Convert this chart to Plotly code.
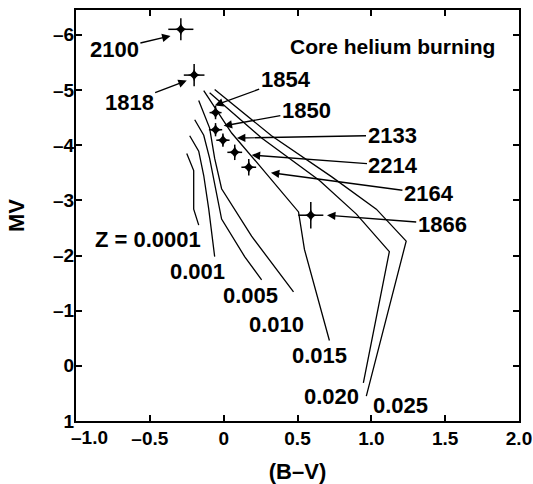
import plotly.graph_objects as go

# --- data (B-V, MV) ---
cluster_names = ["2100", "1818", "1854", "1850", "2133", "2214", "2164", "1866"]
cluster_bv = [-0.29, -0.20, -0.055, -0.055, -0.005, 0.075, 0.17, 0.59]
cluster_mv = [-6.10, -5.27, -4.59, -4.28, -4.09, -3.87, -3.60, -2.73]
cluster_err_bv = [0.085, 0.07, 0.04, 0.045, 0.045, 0.05, 0.05, 0.085]
cluster_err_mv = [0.20, 0.20, 0.12, 0.12, 0.12, 0.14, 0.15, 0.24]
# label positions and arrow tips
label_bv = [-0.74, -0.64, 0.42, 0.56, 1.14, 1.15, 1.39, 1.48]
label_mv = [-5.74, -4.77, -5.19, -4.62, -4.18, -3.63, -3.12, -2.57]
tip_bv = [-0.36, -0.25, -0.06, 0.00, 0.09, 0.19, 0.32, 0.70]
tip_mv = [-5.98, -5.17, -4.72, -4.35, -4.13, -3.82, -3.50, -2.73]

# isochrone tracks by metallicity Z
z_labels = ["Z = 0.0001", "0.001", "0.005", "0.010", "0.015", "0.020", "0.025"]
z_bv = [
    [-0.25, -0.203, -0.203, -0.169],
    [-0.23, -0.169, -0.135, -0.101, -0.061],
    [-0.196, -0.135, -0.095, -0.068, -0.014, 0.142, 0.257],
    [-0.169, -0.095, -0.061, -0.014, 0.189, 0.473],
    [-0.135, 0.054, 0.243, 0.345, 0.507, 0.547, 0.716],
    [-0.095, 0.257, 0.649, 0.899, 1.122, 0.946],
    [-0.061, 0.324, 0.730, 1.034, 1.236, 0.966],
]
z_mv = [
    [-3.85, -3.54, -2.84, -2.55],
    [-4.17, -3.89, -3.45, -2.84, -1.98],
    [-4.46, -4.18, -3.76, -3.39, -2.66, -1.98, -1.56],
    [-4.81, -4.31, -3.76, -3.21, -2.35, -1.34],
    [-4.99, -4.22, -3.63, -3.30, -2.79, -2.11, -0.46],
    [-4.95, -4.13, -3.36, -2.75, -2.07, 0.31],
    [-5.01, -4.17, -3.43, -2.84, -2.26, 0.55],
]
z_label_bv = [-0.51, -0.18, 0.18, 0.36, 0.65, 0.73, 1.20]
z_label_mv = [-2.29, -1.71, -1.28, -0.75, -0.18, 0.55, 0.72]

x_ticks = [-1.0, -0.5, 0, 0.5, 1.0, 1.5, 2.0]
# the first label is drawn as an annotation, nudged right off the corner as in the original
x_ticktext = ["", "\u20130.5", "0", "0.5", "1.0", "1.5", "2.0"]
x_first_label = "\u20131.0"
y_ticks = [-6, -5, -4, -3, -2, -1, 0, 1]
y_ticktext = ["\u20136", "\u20135", "\u20134", "\u20133", "\u20132", "\u20131", "0", "1"]

FONT = "Liberation Sans, Arial, Helvetica, sans-serif"
FS = 22

fig = go.Figure()

for bv, mv in zip(z_bv, z_mv):
    fig.add_trace(go.Scatter(x=bv, y=mv, mode="lines",
                             line=dict(color="black", width=1.3),
                             showlegend=False, hoverinfo="skip"))

fig.add_trace(go.Scatter(
    x=cluster_bv, y=cluster_mv, mode="markers",
    marker=dict(symbol="star-diamond", size=9, color="black"),
    error_x=dict(type="data", array=cluster_err_bv, color="black", thickness=1.5, width=0),
    error_y=dict(type="data", array=cluster_err_mv, color="black", thickness=1.5, width=0),
    showlegend=False, hoverinfo="skip"))

annotations = []
for name, lx, ly, tx, ty in zip(cluster_names, label_bv, label_mv, tip_bv, tip_mv):
    annotations.append(dict(
        x=tx, y=ty, ax=lx, ay=ly, xref="x", yref="y", axref="x", ayref="y",
        text=name, showarrow=True, arrowhead=2, arrowsize=1.2, arrowwidth=1.4,
        arrowcolor="black", standoff=0,
        font=dict(family=FONT, size=FS, color="black", weight="bold")))

for t, lx, ly in zip(z_labels, z_label_bv, z_label_mv):
    annotations.append(dict(x=lx, y=ly, xref="x", yref="y", text=t, showarrow=False,
                            font=dict(family=FONT, size=FS, color="black", weight="bold")))

annotations.append(dict(x=1.14, y=-5.78, xref="x", yref="y", text="Core helium burning",
                        showarrow=False,
                        font=dict(family=FONT, size=21, color="black", weight="bold")))

TICKFONT = dict(family=FONT, size=19, color="black", weight="bold")

annotations.append(dict(x=x_ticks[0], y=0, xref="x", yref="paper", text=x_first_label,
                        showarrow=False, xanchor="center", yanchor="top",
                        xshift=13, yshift=-5, borderpad=0,
                        font=TICKFONT))

fig.update_layout(
    width=533, height=484,
    margin=dict(l=76, r=14, t=10, b=63),
    paper_bgcolor="white", plot_bgcolor="white",
    annotations=annotations,
    font=dict(family=FONT, size=FS, color="black", weight="bold"),
    xaxis=dict(range=[-1.0, 2.0], tickvals=x_ticks, ticktext=x_ticktext,
               ticks="inside", ticklen=6, tickwidth=1.5, tickcolor="black",
               showline=True, linewidth=2, linecolor="black", mirror="ticks",
               showgrid=False, zeroline=False, ticklabelstandoff=-1,
               ticklabeloverflow="allow", automargin=False,
               tickfont=TICKFONT,
               title=dict(text="(B\u2013V)", standoff=16,
                          font=dict(family=FONT, size=FS, color="black", weight="bold"))),
    yaxis=dict(range=[1.0, -6.45], tickvals=y_ticks, ticktext=y_ticktext,
               ticks="inside", ticklen=6, tickwidth=1.5, tickcolor="black",
               showline=True, linewidth=2, linecolor="black", mirror="ticks",
               showgrid=False, zeroline=False, ticklabelstandoff=-4,
               ticklabeloverflow="allow", automargin=False,
               tickfont=TICKFONT,
               title=dict(text="MV", standoff=22,
                          font=dict(family=FONT, size=FS, color="black", weight="bold"))),
)

fig.write_html("out.html")
